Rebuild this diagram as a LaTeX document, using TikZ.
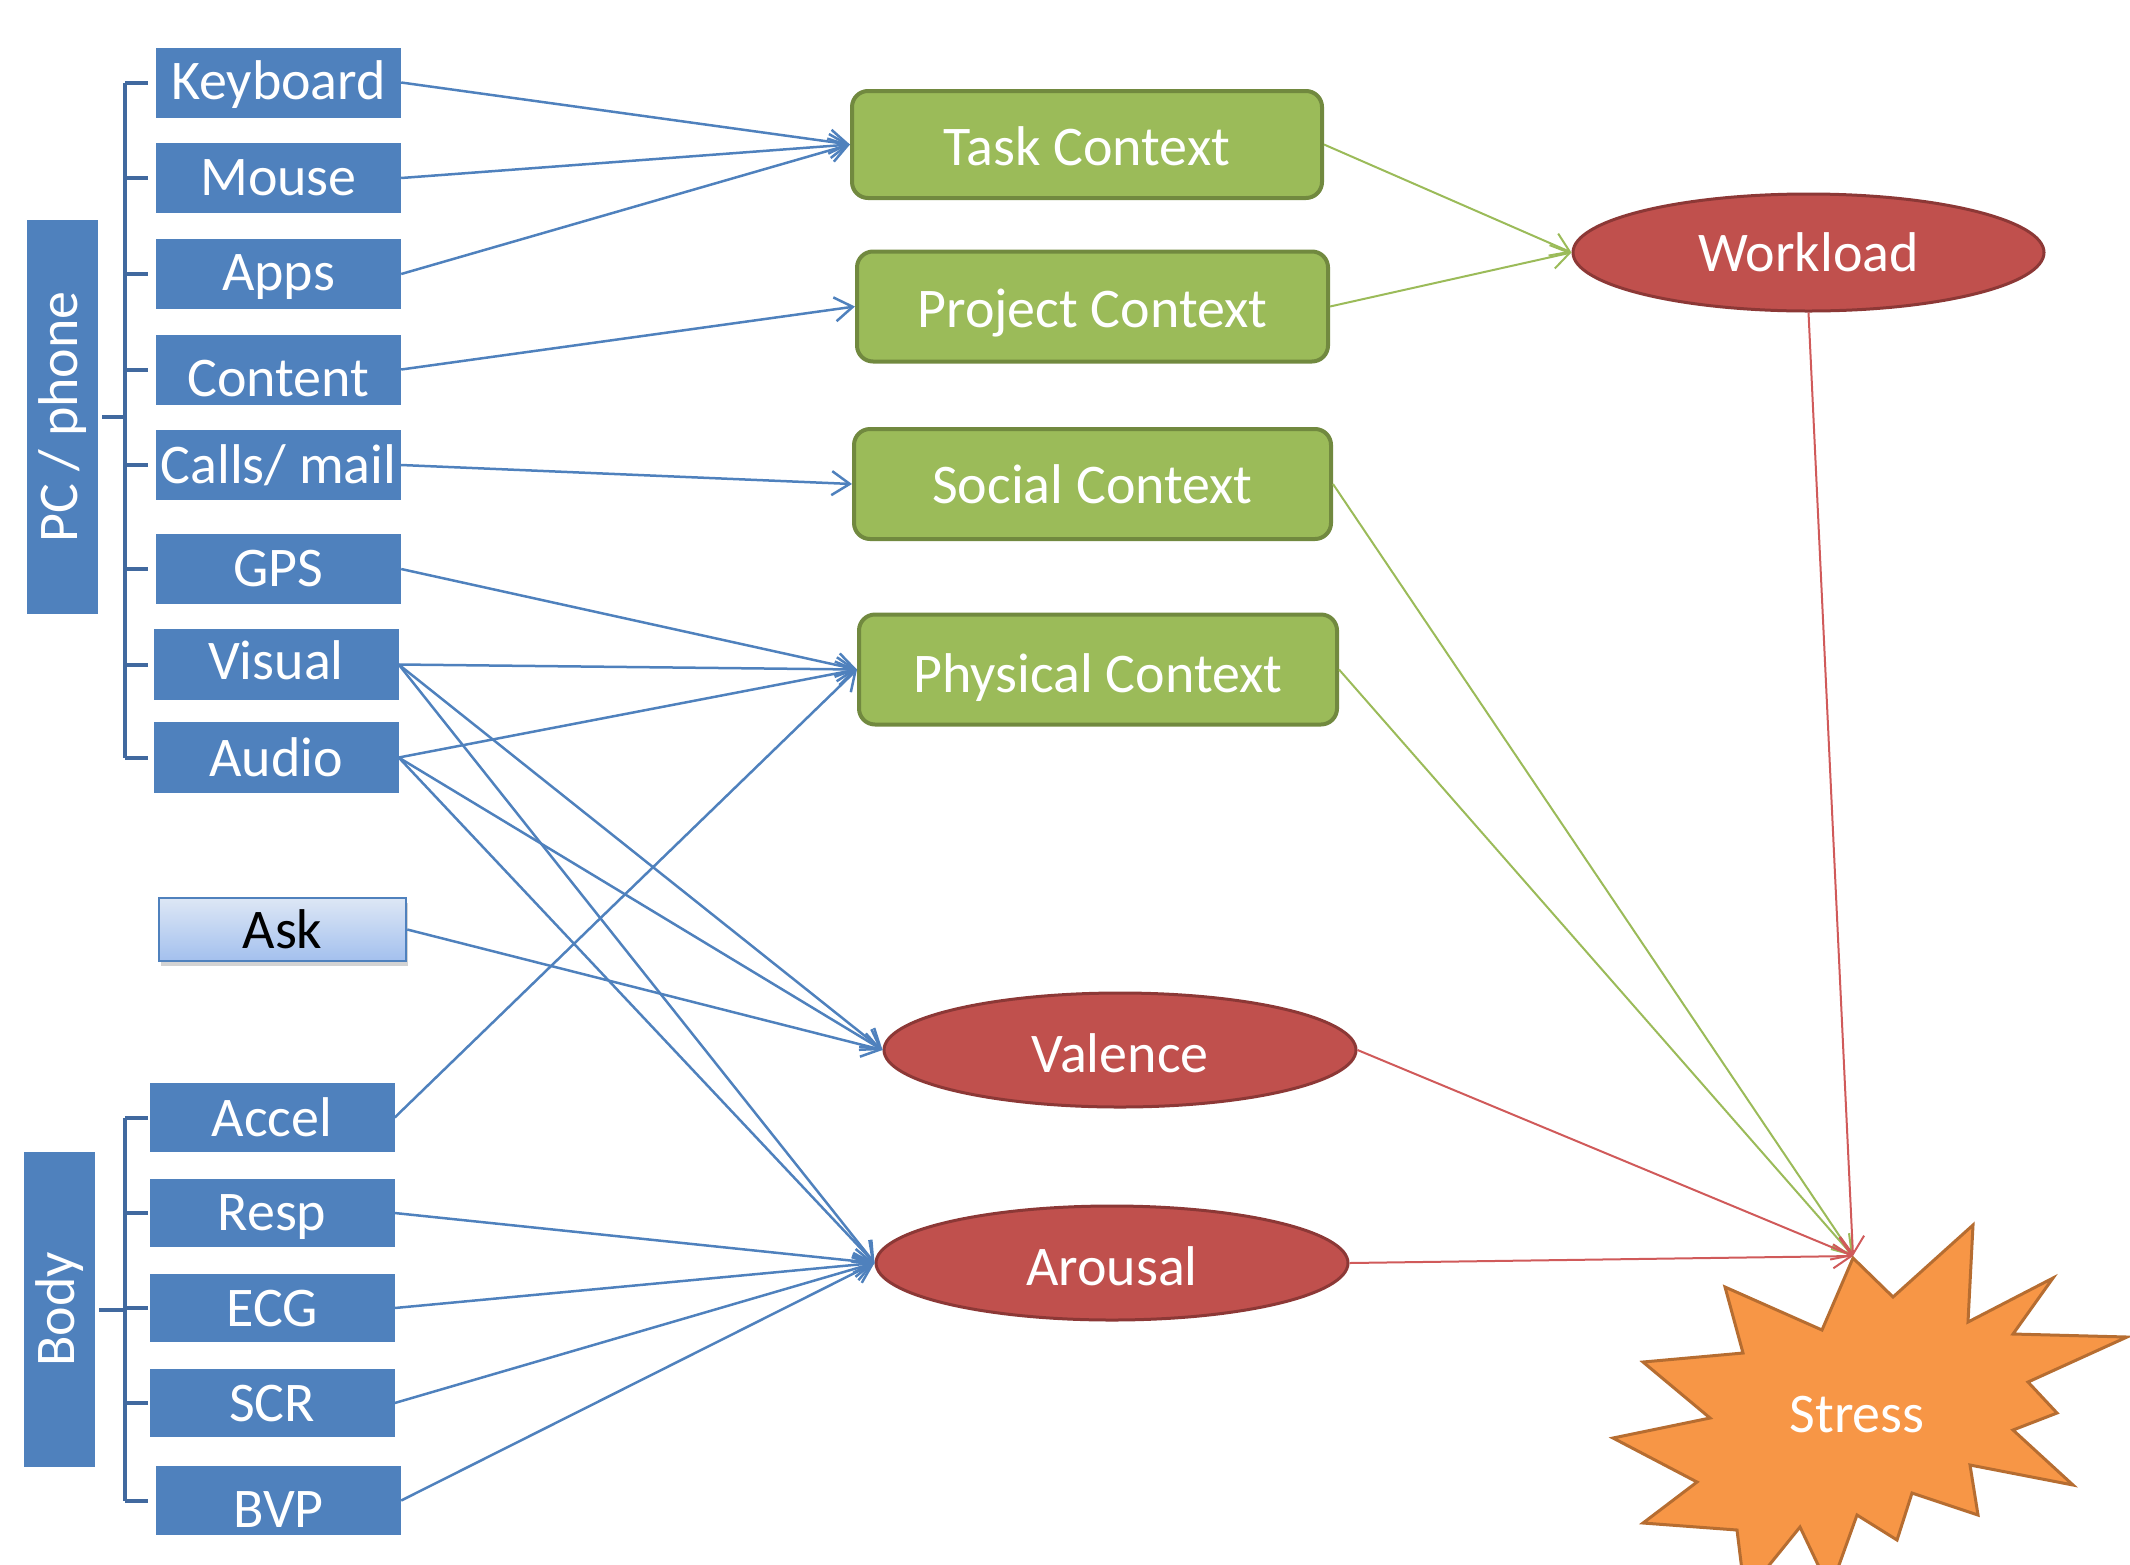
\documentclass[tikz,border=0pt]{standalone}
\usepackage{fontspec}
\setmainfont{Carlito}
\usetikzlibrary{arrows.meta,shapes.geometric,shadows,calc}

\definecolor{obl}{HTML}{4F81BD}
\definecolor{brkc}{HTML}{41699F}
\definecolor{ogr}{HTML}{9BBB59}
\definecolor{ogrd}{HTML}{71893F}
\definecolor{ord}{HTML}{C0504D}
\definecolor{ordd}{HTML}{8C3836}
\definecolor{oor}{HTML}{F79646}
\definecolor{oord}{HTML}{B66D31}
\definecolor{askt}{HTML}{DDE7F5}
\definecolor{askb}{HTML}{A3C0EE}
\definecolor{rln}{HTML}{D05A5A}

\newcommand\lowertx[2]{\raisebox{-#1}[\height][\depth]{#2}}

\begin{document}
\begin{tikzpicture}[x=1pt,y=-1pt,
  font=\fontsize{56}{60}\selectfont,
  src/.style={fill=obl, text=white, minimum width=245pt, minimum height=70pt, inner sep=0pt},
  grp/.style={fill=obl, text=white, rotate=90, minimum height=71pt, inner sep=0pt},
  ctx/.style={fill=ogr, draw=ogrd, line width=4pt, rounded corners=16pt, text=white, inner sep=0pt},
  emo/.style={ellipse, fill=ord, draw=ordd, line width=3pt, text=white, inner sep=0pt},
  brk/.style={brkc, line width=4pt},
  barr/.style={obl, line width=2.5pt, -{Straight Barb[length=18pt,width=24pt]}},
  garr/.style={ogr, line width=2pt, -{Straight Barb[length=18pt,width=24pt]}},
  rarr/.style={rln, line width=2pt, -{Straight Barb[length=18pt,width=24pt]}}
]
\useasboundingbox (0,0) rectangle (2130,1564);

% --- group labels
\node[grp, minimum width=394pt] (pc) at (62.5,417) {PC / phone};
\node[grp, minimum width=315pt] (body) at (59.5,1309.5) {Body};

% --- sources
\node[src] (kb) at (278.5,82.5) {\lowertx{2pt}{Keyboard}};
\node[src] (ms) at (278.5,178) {Mouse};
\node[src] (ap) at (278.5,274) {\lowertx{3pt}{Apps}};
\node[src] (ct) at (278.5,369.5) {\lowertx{9pt}{Content}};
\node[src] (cm) at (278.5,465) {Calls/ mail};
\node[src] (gp) at (278.5,569) {GPS};
\node[src, minimum height=71pt] (vi) at (276,664.5) {\lowertx{-4pt}{Visual}};
\node[src, minimum height=71pt] (au) at (276,757.5) {Audio};
\node[draw=obl, line width=2.5pt, top color=askt, bottom color=askb, text=black,
      minimum width=247pt, minimum height=63pt, inner sep=0pt,
      drop shadow={shadow xshift=2pt, shadow yshift=-5pt, opacity=0.35}] (ask) at (282.5,929.5) {Ask};
\node[src, minimum height=69pt] (ac) at (272,1117.5) {Accel};
\node[src, minimum height=68pt] (rs) at (272,1213) {\lowertx{4pt}{Resp}};
\node[src, minimum height=68pt] (ec) at (272,1308) {ECG};
\node[src, minimum height=68pt] (sc) at (272,1403) {SCR};
\node[src, minimum height=69pt] (bv) at (278.5,1500.5) {\lowertx{9pt}{BVP}};

% --- brackets
\coordinate (bxa) at (125,0);
\coordinate (tka) at (148,0);
\draw[brk] (kb.west -| bxa) -- (au.west -| bxa);
\foreach \n in {kb,ms,ap,ct,cm,gp,vi,au}
  \draw[brk] (\n.west -| bxa) -- (\n.west -| tka);
\draw[brk] ([xshift=4pt]pc.south) -- (pc.south -| bxa);
\draw[brk] (ac.west -| bxa) -- (bv.west -| bxa);
\foreach \n in {ac,rs,ec,sc,bv}
  \draw[brk] (\n.west -| bxa) -- (\n.west -| tka);
\draw[brk] ([xshift=4pt]body.south) -- (body.south -| bxa);

% --- contexts
\node[ctx, minimum width=470pt, minimum height=107pt] (task) at (1087,144.5) {\lowertx{2pt}{Task Context}};
\node[ctx, minimum width=471pt, minimum height=110pt] (proj) at (1092.5,306.5) {\lowertx{7pt}{Project Context}};
\node[ctx, minimum width=477pt, minimum height=110pt] (soc) at (1092.5,484) {Social Context};
\node[ctx, minimum width=478pt, minimum height=110pt] (phy) at (1098,669.5) {\lowertx{8pt}{Physical Context}};

% --- ellipses
\node[emo, minimum width=471pt, minimum height=117pt] (wl) at (1808.5,252.5) {Workload};
\node[emo, minimum width=472pt, minimum height=114pt] (val) at (1120,1050) {\lowertx{3pt}{Valence}};
\node[emo, minimum width=472pt, minimum height=114pt] (aro) at (1112,1263) {\lowertx{3pt}{Arousal}};

% --- stress explosion
\draw[fill=oor, draw=oord, line width=3pt, line join=miter]
  (1853,1258) -- (1893,1297) -- (1973,1225) -- (1968,1322) -- (2053,1278) -- (2013,1334)
  -- (2127,1337) -- (2028,1382) -- (2057,1413) -- (2013,1430) -- (2073,1485) -- (1970,1465)
  -- (1978,1515) -- (1912,1493) -- (1897,1540) -- (1857,1515) -- (1830,1590) -- (1800,1527)
  -- (1745,1595) -- (1737,1530) -- (1643,1523) -- (1697,1482) -- (1613,1438) -- (1710,1418)
  -- (1643,1362) -- (1743,1353) -- (1725,1287) -- (1822,1330) -- cycle;
\node[text=white, inner sep=0pt] (stress) at (1857,1415) {Stress};
\coordinate (tip) at (1853,1256);

% --- blue connectors
\draw[barr] (kb.east) -- (task.west);
\draw[barr] (ms.east) -- (task.west);
\draw[barr] (ap.east) -- (task.west);
\draw[barr] (ct.east) -- (proj.west);
\draw[barr] (cm.east) -- (soc.west);
\draw[barr] (gp.east) -- (phy.west);
\draw[barr] (vi.east) -- (phy.west);
\draw[barr] (au.east) -- (phy.west);
\draw[barr] (ac.east) -- (phy.west);
\draw[barr] (vi.east) -- (val.west);
\draw[barr] (au.east) -- (val.west);
\draw[barr] (ask.east) -- (val.west);
\draw[barr] (vi.east) -- (aro.west);
\draw[barr] (au.east) -- (aro.west);
\draw[barr] (rs.east) -- (aro.west);
\draw[barr] (ec.east) -- (aro.west);
\draw[barr] (sc.east) -- (aro.west);
\draw[barr] (bv.east) -- (aro.west);

% --- green connectors
\draw[garr] (task.east) -- (wl.west);
\draw[garr] (proj.east) -- (wl.west);
\draw[garr] (soc.east) -- (tip);
\draw[garr] (phy.east) -- (tip);

% --- red connectors
\draw[rarr] (wl.south) -- (tip);
\draw[rarr] (val.east) -- (tip);
\draw[rarr] (aro.east) -- (tip);
\end{tikzpicture}
\end{document}
